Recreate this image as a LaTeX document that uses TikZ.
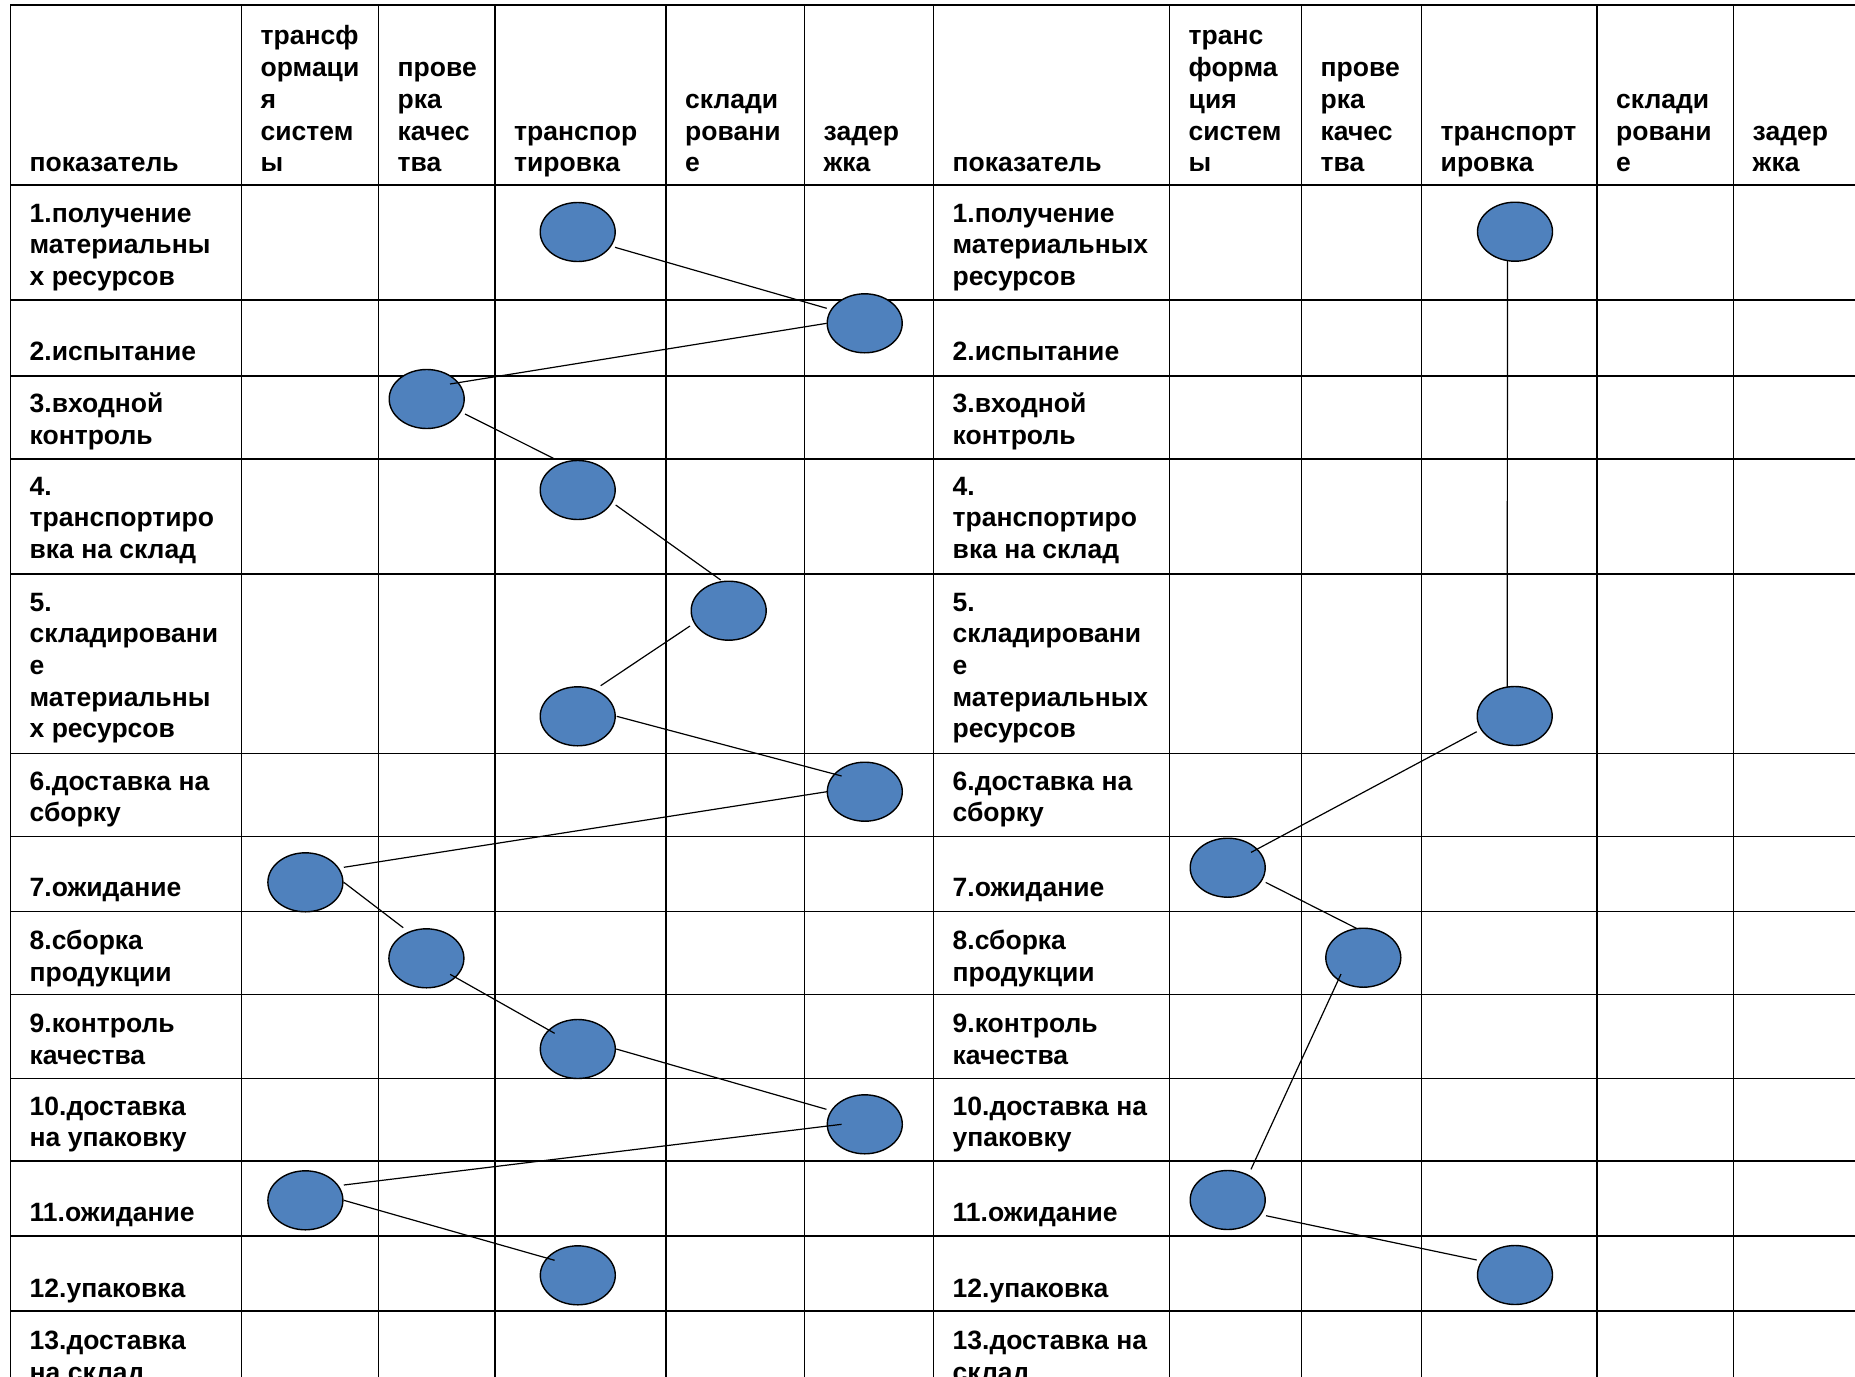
\documentclass[tikz,border=0pt]{standalone}
\usepackage{fontspec}
\setmainfont{Liberation Sans}
\usetikzlibrary{shapes.geometric,calc}
\definecolor{ovalblue}{RGB}{79,129,189}
\newcommand\cellfont{\fontsize{26.5}{31.7}\selectfont\bfseries}
\newcommand\btop[1]{\parbox[t]{400pt}{\raggedright\cellfont #1}}
\newcommand\bbot[1]{\parbox[b]{400pt}{\raggedright\cellfont #1}}
\tikzset{
  gridline/.style={line width=1.6pt, black, line cap=rect},
  oval/.style={ellipse, draw=black, line width=1.4pt, fill=ovalblue,
    minimum width=75pt, minimum height=59pt, inner sep=0pt},
  link/.style={line width=1.2pt, black},
  celltext/.style={anchor=base west, inner sep=0pt},
}
\begin{document}
\begin{tikzpicture}[x=1pt,y=-1pt]
\useasboundingbox (0,0) rectangle (1855,1376);
\clip (0,0) rectangle (1855,1376);
\fill[white] (0,0) rectangle (1855,1376);
% table grid
\foreach \yy in {5,185,300,375.7,458.7,573.7,753.3,836.5,911.5,994.5,1078.3,1161,1236,1311}
  \draw[gridline] (10.5,\yy) -- (1870,\yy);
\foreach \xx in {10.5,241.5,378.5,495,666,804.5,933.5,1169.5,1301.5,1421.5,1597,1733.5}
  \draw[gridline] (\xx,5) -- (\xx,1390);
% header, left table
\node[celltext] (lh0) at (29.5,171.7) {\bbot{показатель}};
\node[celltext] (lh1) at (260.5,171.7) {\bbot{трансф\\ормаци\\я\\систем\\ы}};
\node[celltext] (lh2) at (397.5,171.7) {\bbot{прове\\рка\\качес\\тва}};
\node[celltext] (lh3) at (514,171.7) {\bbot{транспор\\тировка}};
\node[celltext] (lh4) at (685,171.7) {\bbot{склади\\ровани\\е}};
\node[celltext] (lh5) at (823.5,171.7) {\bbot{задер\\жка}};
% header, right table
\node[celltext] (rh0) at (952.5,171.7) {\bbot{показатель}};
\node[celltext] (rh1) at (1188.5,171.7) {\bbot{транс\\форма\\ция\\систем\\ы}};
\node[celltext] (rh2) at (1320.5,171.7) {\bbot{прове\\рка\\качес\\тва}};
\node[celltext] (rh3) at (1440.5,171.7) {\bbot{транспорт\\ировка}};
\node[celltext] (rh4) at (1616,171.7) {\bbot{склади\\ровани\\е}};
\node[celltext] (rh5) at (1752.5,171.7) {\bbot{задер\\жка}};
% row labels, left table
\node[celltext] (lt1) at (29.5,222) {\btop{1.получение\\материальны\\х ресурсов}};
\node[celltext] (lt2) at (29.5,360) {\btop{2.испытание}};
\node[celltext] (lt3) at (29.5,412.5) {\btop{3.входной\\контроль}};
\node[celltext] (lt4) at (29.5,495) {\btop{4.\\транспортиро\\вка на склад}};
\node[celltext] (lt5) at (29.5,611) {\btop{5.\\складировани\\е\\материальны\\х ресурсов}};
\node[celltext] (lt6) at (29.5,790) {\btop{6.доставка на\\сборку}};
\node[celltext] (lt7) at (29.5,896) {\btop{7.ожидание}};
\node[celltext] (lt8) at (29.5,949.5) {\btop{8.сборка\\продукции}};
\node[celltext] (lt9) at (29.5,1032.5) {\btop{9.контроль\\качества}};
\node[celltext] (lt10) at (29.5,1115) {\btop{10.доставка\\на упаковку}};
\node[celltext] (lt11) at (29.5,1221.7) {\btop{11.ожидание}};
\node[celltext] (lt12) at (29.5,1297.4) {\btop{12.упаковка}};
\node[celltext] (lt13) at (29.5,1349.5) {\btop{13.доставка\\на склад}};
% row labels, right table
\node[celltext] (rt1) at (952.5,222) {\btop{1.получение\\материальных\\ресурсов}};
\node[celltext] (rt2) at (952.5,360) {\btop{2.испытание}};
\node[celltext] (rt3) at (952.5,412.5) {\btop{3.входной\\контроль}};
\node[celltext] (rt4) at (952.5,495) {\btop{4.\\транспортиро\\вка на склад}};
\node[celltext] (rt5) at (952.5,611) {\btop{5.\\складировани\\е\\материальных\\ресурсов}};
\node[celltext] (rt6) at (952.5,790) {\btop{6.доставка на\\сборку}};
\node[celltext] (rt7) at (952.5,896) {\btop{7.ожидание}};
\node[celltext] (rt8) at (952.5,949.5) {\btop{8.сборка\\продукции}};
\node[celltext] (rt9) at (952.5,1032.5) {\btop{9.контроль\\качества}};
\node[celltext] (rt10) at (952.5,1115) {\btop{10.доставка на\\упаковку}};
\node[celltext] (rt11) at (952.5,1221.7) {\btop{11.ожидание}};
\node[celltext] (rt12) at (952.5,1297.4) {\btop{12.упаковка}};
\node[celltext] (rt13) at (952.5,1349.5) {\btop{13.доставка на\\склад}};
% ovals, left table
\node[oval] (a1) at (577.7,232) {};
\node[oval] (a2) at (864.7,323.3) {};
\node[oval] (a3) at (426.7,399) {};
\node[oval] (a4) at (577.7,490) {};
\node[oval] (a5) at (728.7,610.7) {};
\node[oval] (a5b) at (577.7,716.3) {};
\node[oval] (a6) at (864.8,791.7) {};
\node[oval] (a7) at (305.4,882.3) {};
\node[oval] (a8) at (426.4,958.3) {};
\node[oval] (a9) at (577.8,1049) {};
\node[oval] (a10) at (864.8,1124.3) {};
\node[oval] (a11) at (305.4,1200.3) {};
\node[oval] (a12) at (577.8,1275.3) {};
% ovals, right table
\node[oval] (b1) at (1515,231.7) {};
\node[oval] (b5) at (1514.7,716) {};
\node[oval] (b7) at (1227.7,867.7) {};
\node[oval] (b8) at (1363.3,957.7) {};
\node[oval] (b11) at (1227.7,1200) {};
\node[oval] (b12) at (1515,1275) {};
% connectors, left table
\draw[link] ($(a1)+(37.3,15.3)$) -- ($(a2)+(-38,-15)$);
\draw[link] ($(a2)+(-38,0)$) -- ($(a3)+(23.3,-15)$);
\draw[link] ($(a3)+(38.3,15)$) -- ($(a4)+(-24.3,-31.7)$);
\draw[link] ($(a4)+(38,15)$) -- ($(a5)+(-8,-30.7)$);
\draw[link] ($(a5)+(-38.7,15.3)$) -- ($(a5b)+(23,-30.6)$);
\draw[link] ($(a5b)+(39,0)$) -- ($(a6)+(-23.2,-15.7)$);
\draw[link] ($(a6)+(-37.9,0)$) -- ($(a7)+(38.4,-15)$);
\draw[link] ($(a7)+(38.4,0)$) -- ($(a8)+(-23.2,-30.6)$);
\draw[link] ($(a8)+(23.7,16)$) -- ($(a9)+(-23.2,-15.7)$);
\draw[link] ($(a9)+(38.4,0)$) -- ($(a10)+(-38.4,-15)$);
\draw[link] ($(a10)+(-23.2,0)$) -- ($(a11)+(38.4,-15.3)$);
\draw[link] ($(a11)+(38.4,0)$) -- ($(a12)+(-23.2,-15)$);
% connectors, right table
\draw[link] ($(b1)+(-7.5,29)$) -- ($(b5)+(-7.5,-29)$);
\draw[link] ($(b5)+(-38,15.7)$) -- ($(b7)+(23.3,-15.3)$);
\draw[link] ($(b7)+(38,14.7)$) -- ($(b8)+(-6.7,-29.3)$);
\draw[link] ($(b8)+(-22.3,16.3)$) -- ($(b11)+(23.3,-30.7)$);
\draw[link] ($(b11)+(38.3,15.7)$) -- ($(b12)+(-38.3,-15)$);
\end{tikzpicture}
\end{document}
